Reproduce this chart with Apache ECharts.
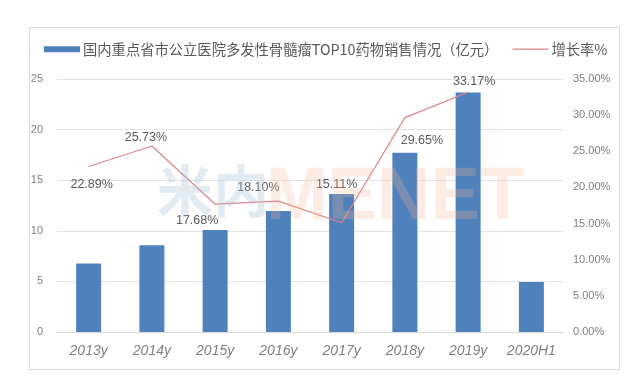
<!DOCTYPE html>
<html><head><meta charset="utf-8">
<script src="https://cdn.jsdelivr.net/npm/echarts@6/dist/echarts.min.js"></script>
<style>html,body{margin:0;padding:0;background:#fff}#c{width:626px;height:385px}</style>
</head><body><div id="c"></div>
<script>
const categories = ['2013y','2014y','2015y','2016y','2017y','2018y','2019y','2020H1'];
const salesValues = [6.77, 8.58, 10.07, 11.95, 13.63, 17.72, 23.66, 4.95];
const growthRates = [22.89, 25.73, 17.68, 18.10, 15.11, 29.65, 33.17];
const leftTicks = [0, 5, 10, 15, 20, 25];
const rightTicks = [0, 5, 10, 15, 20, 25, 30, 35];
const barName = '国内重点省市公立医院多发性骨髓瘤TOP10药物销售情况（亿元）';
const lineName = '增长率%';

// label placement (offsets from points), kept separate from the data
const labelOffsets = [[3,18],[-6,-8],[-18,16],[-20,-14],[-5,-38],[17,23],[6,-11]];

const chart = echarts.init(document.getElementById('c'), null, {renderer:'canvas'});
const numFont = "'Liberation Sans', 'Noto Sans CJK SC', sans-serif";
const cjkFont = "'Noto Sans CJK SC', 'Liberation Sans', sans-serif";

chart.setOption({
  animation: false,
  backgroundColor: '#fff',
  graphic: [
    { type:'rect', left:27, top:25, shape:{x:0,y:0,width:590,height:342}, style:{fill:'none', stroke:'#d9d9d9', lineWidth:1}, z:0 },
    { type:'text', left:157, top:163, z:100, style:{text:'米内', font:"bold 56px 'Noto Sans CJK SC'", fill:'#a9c7d6', opacity:0.35} },
    { type:'text', left:266, top:162, z:100, style:{text:'MENET', font:"bold 74px 'Liberation Sans'", fill:'#f7b58f', opacity:0.25} }
  ],
  legend: {
    left: 39, top: 37,
    itemGap: 14,
    itemWidth: 36, itemHeight: 6,
    textStyle: { fontFamily: cjkFont, fontSize: 14.3, color: '#595959', padding:[0,0,0,-2] },
    data: [
      { name: barName, icon: 'rect' },
      { name: lineName, icon: 'path://M0,0 H36 V1.2 H0 Z' }
    ]
  },
  grid: { left: 57, right: 63, top: 79, bottom: 53 },
  xAxis: {
    type: 'category', data: categories,
    axisLine: { lineStyle: { color: '#d9d9d9' } },
    axisTick: { show: false },
    axisLabel: { interval: 0, fontFamily: numFont, fontStyle: 'italic', fontSize: 14, color: '#7f7f7f', margin: 12 }
  },
  yAxis: [
    { type: 'value', min: leftTicks[0], max: leftTicks[leftTicks.length-1], interval: 5,
      axisLine: { show: false }, axisTick: { show: false },
      splitLine: { lineStyle: { color: '#e3e3e3' } },
      axisLabel: { fontFamily: numFont, fontSize: 11, color: '#7f7f7f', margin: 14 } },
    { type: 'value', min: rightTicks[0], max: rightTicks[rightTicks.length-1], interval: 5,
      axisLine: { show: false }, axisTick: { show: false },
      splitLine: { show: false },
      axisLabel: { fontFamily: numFont, fontSize: 11, color: '#7f7f7f', margin: 10,
        formatter: v => v.toFixed(2) + '%' } }
  ],
  series: [
    { name: barName, type: 'bar', data: salesValues, barWidth: 25,
      itemStyle: { color: '#4f81bd' }, z: 2 },
    { name: lineName, type: 'line', yAxisIndex: 1,
      data: growthRates.map((v, i) => ({ value: v, label: { offset: labelOffsets[i] } })),
      symbol: 'circle', symbolSize: 0.01, showSymbol: true,
      lineStyle: { color: '#dd8585', width: 1.2 },
      itemStyle: { color: '#dd8585' },
      label: { show: true, position: 'inside', fontFamily: numFont, fontSize: 12.5, color: '#595959',
        formatter: p => p.value.toFixed(2) + '%' },
      z: 3 }
  ]
});
</script></body></html>
